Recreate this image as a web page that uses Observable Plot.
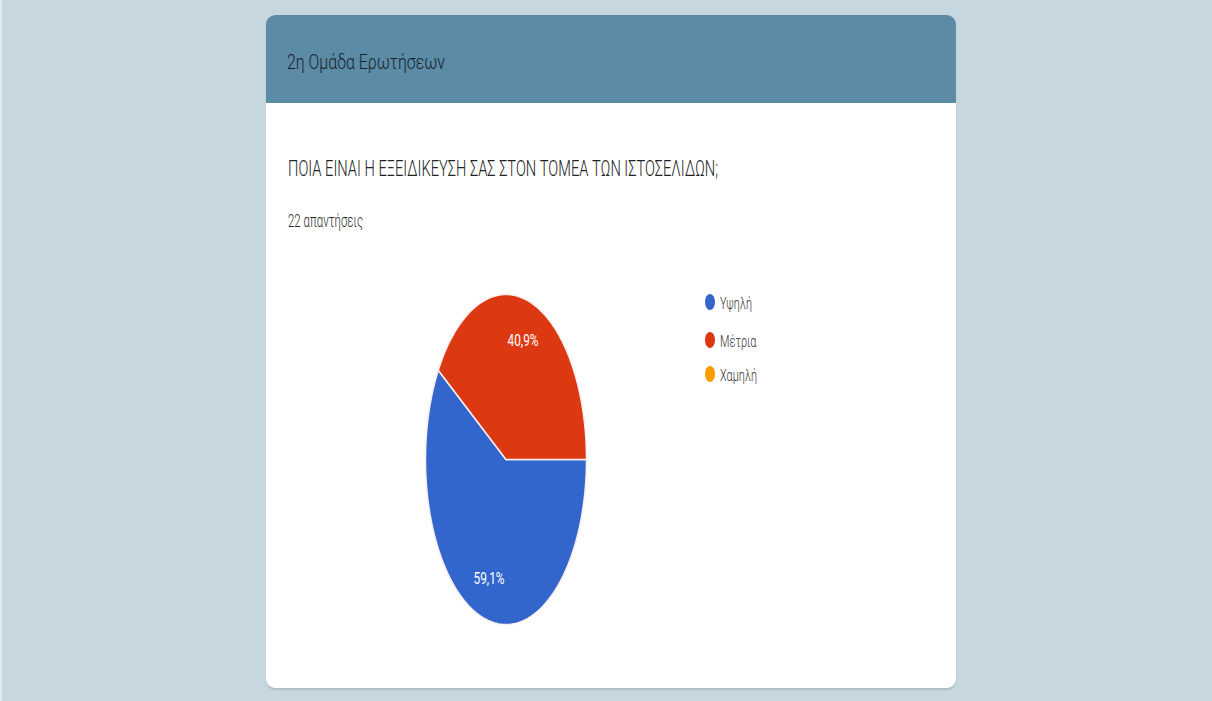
<!DOCTYPE html>
<html><head><meta charset="utf-8">
<script src="https://cdn.jsdelivr.net/npm/d3@7"></script>
<script src="https://cdn.jsdelivr.net/npm/@observablehq/plot@0.6"></script>
<style>
html,body{margin:0;padding:0;width:1212px;height:701px;overflow:hidden;background:#c6d7e0;font-family:Roboto,sans-serif}
#strip{position:absolute;left:0;top:0;width:2px;height:701px;background:#e4ecf0}
#card{position:absolute;left:266px;top:15px;width:690px;height:673px;background:#fff;border-radius:9px;box-shadow:0 2px 1px rgba(0,0,0,0.12)}
#head{position:absolute;left:0;top:0;width:690px;height:88px;background:#5b8ba5;border-radius:9px 9px 0 0}
#chart{position:absolute;left:423px;top:291.5px}
#overlay{position:absolute;left:0;top:0}
</style></head>
<body>
<div id="strip"></div>
<div id="card"><div id="head"></div></div>
<div id="chart"></div>
<svg id="overlay" width="1212" height="701"></svg>
<script>
// ---- data ----
const sectionTitle = "2η Ομάδα Ερωτήσεων";
const question = "ΠΟΙΑ ΕΙΝΑΙ Η ΕΞΕΙΔΙΚΕΥΣΗ ΣΑΣ ΣΤΟΝ ΤΟΜΕΑ ΤΩΝ ΙΣΤΟΣΕΛΙΔΩΝ;";
const responsesLabel = "22 απαντήσεις";
const categories = ["Υψηλή", "Μέτρια", "Χαμηλή"];
const counts = [13, 9, 0];
const colors = ["#3366cc", "#dc3912", "#ff9900"];

// ---- build slice outlines from the data ----
const total = d3.sum(counts);
const rad = d => d * Math.PI / 180;
const slices = [];
const labels = [];
let a0 = 90; // starts at 3 o'clock, clockwise
categories.forEach((c, i) => {
  const v = counts[i];
  if (!v) return;
  const span = v / total * 360;
  const n = Math.ceil(span);
  slices.push({key: c, x: 0, y: 0});
  for (let k = 0; k <= n; k++) {
    const t = rad(a0 + span * k / n);
    slices.push({key: c, x: Math.sin(t), y: Math.cos(t)});
  }
  slices.push({key: c, x: 0, y: 0});
  const mid = rad(a0 + span / 2);
  labels.push({key: c, x: 0.75 * Math.sin(mid), y: 0.75 * Math.cos(mid),
    label: (v / total * 100).toFixed(1).replace(".", ",") + "%"});
  a0 += span;
});

const plot = Plot.plot({
  width: 165, height: 334, margin: 2,
  x: {domain: [-1, 1], axis: null},
  y: {domain: [-1, 1], axis: null},
  color: {domain: categories, range: colors},
  style: {fontFamily: "Roboto, sans-serif", background: "transparent", overflow: "visible"},
  marks: [
    Plot.line(slices, {x: "x", y: "y", z: "key", fill: "key", stroke: "#fbeef0", strokeWidth: 1.5, curve: "linear"}),
    Plot.text(labels, {x: "x", y: "y", text: "label", fill: "white", fontSize: 17})
  ]
});
document.getElementById("chart").appendChild(plot);
// condense the slice labels horizontally
const lt = Array.from(plot.querySelectorAll("text"));
if (lt.length) {
  const ref = lt[0].getComputedTextLength();
  const s = 31 / (ref || 44);
  lt.forEach(t => {
    t.setAttribute("textLength", t.getComputedTextLength() * s);
    t.setAttribute("lengthAdjust", "spacingAndGlyphs");
  });
}

// ---- texts and legend ----
const svg = d3.select("#overlay");
function addText(txt, x, y, size, fill, width, weight) {
  const t = svg.append("text").attr("x", x).attr("y", y)
    .attr("font-family", "Roboto, sans-serif").attr("font-size", size)
    .attr("font-weight", weight || 400)
    .attr("fill", fill).text(txt);
  if (width) t.attr("textLength", width).attr("lengthAdjust", "spacingAndGlyphs");
  return t;
}
addText(sectionTitle, 287, 69, 21, "#16242f", 158, 300);
addText(question, 288, 176, 22, "#222222", 430, 300);
addText(responsesLabel, 288, 227, 19, "#2a2a2a", 75, 300);

const baselines = [309, 347, 381];
const legendTexts = categories.map((c, i) => addText(c, 720, baselines[i], 17, "#333333", null, 300));
const s0 = 32 / legendTexts[0].node().getComputedTextLength();
legendTexts.forEach(t => t.attr("textLength", t.node().getComputedTextLength() * s0).attr("lengthAdjust", "spacingAndGlyphs"));
categories.forEach((c, i) => {
  svg.append("ellipse").attr("cx", 710).attr("cy", baselines[i] - 7)
    .attr("rx", 5).attr("ry", 8).attr("fill", colors[i]);
});
</script>
</body></html>
